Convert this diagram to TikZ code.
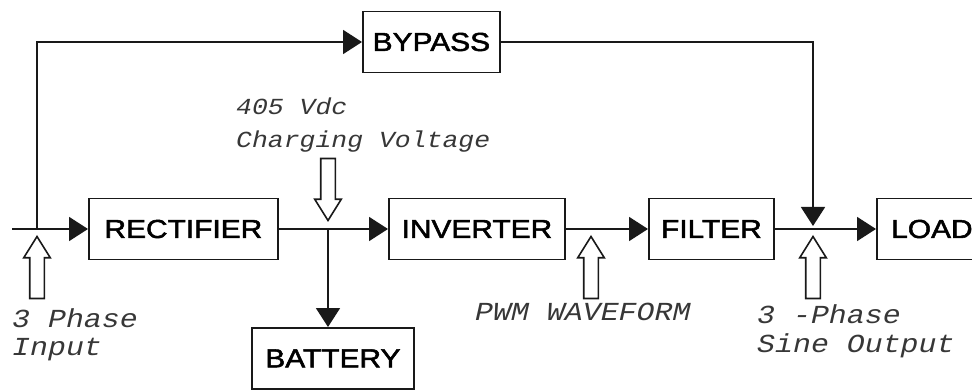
\documentclass[tikz,border=0pt]{standalone}
\usepackage{fontspec}
\usepackage{xcolor}
\usetikzlibrary{positioning,arrows.meta,shapes.arrows}
\newfontfamily\boxfont{Liberation Sans}[FakeStretch=1.15,FakeBold=2]
\newfontfamily\notefont{Liberation Mono}[FakeStretch=1.15]
\definecolor{ink}{RGB}{25,25,25}
\definecolor{note}{RGB}{55,55,55}
\tikzset{
    blk/.style={rectangle,draw=ink,line width=1.8pt,minimum height=61pt,inner sep=0pt,anchor=west,text=black,font={\boxfont\fontsize{26}{30}\selectfont}},
    arr/.style={-{Triangle[length=19pt,width=24pt]},line width=1.8pt,draw=ink},
    hollow/.style={single arrow,draw=ink,line width=1.6pt,fill=white,minimum height=62pt,inner xsep=0pt,inner ysep=6.5pt,single arrow head extend=6pt,single arrow tip angle=64,anchor=tip},
    lbl/.style={inner sep=0pt,anchor=base west,text=note,font={\notefont\itshape\fontsize{26}{30}\selectfont}},
    lblsm/.style={lbl,font={\notefont\itshape\fontsize{23}{30}\selectfont}},
}

\begin{document}
\begin{tikzpicture}[x=1pt,y=-1pt]
\useasboundingbox (0,0) rectangle (972,390);
% blocks
\node[blk,minimum width=189pt] (rect) at (88,229) {RECTIFIER};
\node[blk,minimum width=176pt] (inv)  at (388,229) {INVERTER};
\node[blk,minimum width=125pt] (filt) at (648,229) {FILTER};
\node[blk,minimum width=110pt] (load) at (876,229) {LOAD};
\node[blk,minimum width=137pt] (byp)  at (362,42) {BYPASS};
\node[blk,minimum width=162pt,anchor=north west] (batt) at (251,327) {BATTERY};

% junctions
\coordinate (in)    at (12,229);
\coordinate (split) at (37,229);
\coordinate (bus)   at (328,229);
\coordinate (pwm)   at (591,229);
\coordinate (out)   at (813,229);

\draw[arr] (in) -- (rect);
\draw[arr] (rect) -- (inv);
\draw[arr] (inv) -- (filt);
\draw[arr] (filt) -- (load);
\draw[arr] (bus) -- (bus |- batt.north);
\draw[arr] (split) |- (byp);
\draw[arr,shorten >=3pt] (byp) -| (out);

% hollow pointers
\node[hollow,rotate=90] (inptr) at ([yshift=-6pt]split) {};
\node[hollow,rotate=-90] (chgptr) at ([yshift=7pt]bus) {};
\node[hollow,rotate=90] (pwmptr) at ([yshift=-6pt]pwm) {};
\node[hollow,rotate=90] (outptr) at ([yshift=-6pt]out) {};

% labels
\node[lblsm] (chg1) at (236,115) {405 Vdc};
\node[lblsm] (chg2) at (236,148) {Charging Voltage};
\node[lbl] (ph1) at (12,327) {3 Phase};
\node[lbl] (ph2) at (12,355) {Input};
\node[lbl] (pwmtxt) at (475,320) {PWM WAVEFORM};
\node[lbl] (sine1) at (757,323) {3 -Phase};
\node[lbl] (sine2) at (757,352) {Sine Output};
\end{tikzpicture}
\end{document}
